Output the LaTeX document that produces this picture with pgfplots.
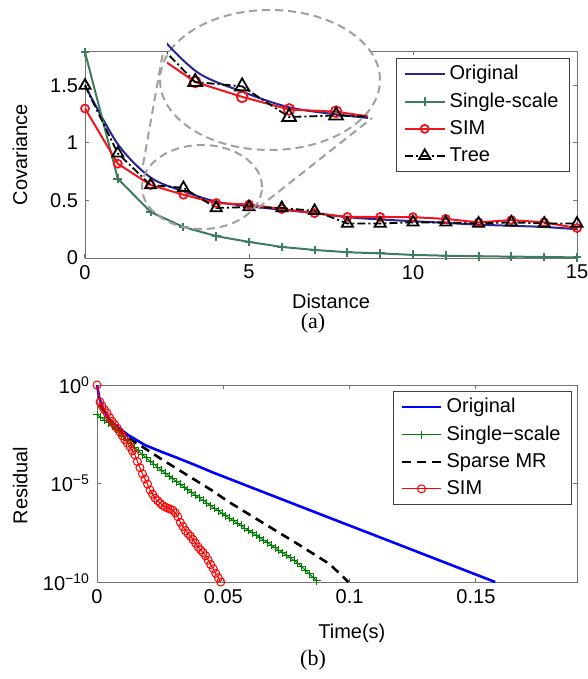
\documentclass[border=0pt]{standalone}
\usepackage{fontspec}
\setmainfont{Liberation Sans}
\newfontfamily\capfont{Liberation Serif}
\usepackage{pgfplots}
\usepackage{pgfplotstable}
\pgfplotsset{compat=1.18}

\definecolor{origblue}{RGB}{38,38,145}
\definecolor{ssgreen}{RGB}{62,125,92}
\definecolor{simred}{RGB}{238,22,28}
\definecolor{zoomgray}{RGB}{160,160,160}
\definecolor{mgreen}{RGB}{0,128,0}

% (a) covariance against distance
\pgfplotstableread{
d  orig  single sim   tree
0  1.50  1.79   1.30  1.50
1  0.99  0.69   0.82  0.91
2  0.70  0.40   0.635 0.635
3  0.58  0.27   0.55  0.61
4  0.49  0.19   0.478 0.435
5  0.45  0.14   0.465 0.443
6  0.42  0.096  0.426 0.435
7  0.39  0.07   0.39  0.41
8  0.355 0.05   0.357 0.30
9  0.335 0.04   0.357 0.30
10 0.32  0.027  0.355 0.31
11 0.305 0.02   0.34  0.31
12 0.29  0.015  0.31  0.30
13 0.28  0.012  0.33  0.31
14 0.27  0.009  0.31  0.30
15 0.25  0.005  0.26  0.30
}\covdata

% (b) residual, second column is log10 of the residual
\pgfplotstableread{
t      L
0      0
0.001  -0.70
0.0024 -1.17
0.0044 -1.68
0.0071 -2.03
0.0123 -2.54
0.019  -3.05
0.0257 -3.40
0.032  -3.71
0.0388 -4.06
0.0455 -4.42
0.0657 -5.43
0.0922 -6.75
0.116  -7.93
0.1576 -10.0
}\resorig

\pgfplotstableread{
t      L
0.0000 -1.50
0.0015 -1.64
0.0030 -1.78
0.0045 -1.91
0.0060 -2.05
0.0075 -2.24
0.0090 -2.43
0.0105 -2.62
0.0120 -2.81
0.0135 -2.99
0.0150 -3.17
0.0165 -3.35
0.0180 -3.53
0.0195 -3.70
0.0210 -3.86
0.0225 -4.01
0.0240 -4.17
0.0255 -4.33
0.0270 -4.47
0.0285 -4.62
0.0300 -4.76
0.0315 -4.90
0.0330 -5.04
0.0345 -5.18
0.0360 -5.32
0.0375 -5.46
0.0390 -5.60
0.0405 -5.73
0.0420 -5.86
0.0435 -5.99
0.0450 -6.13
0.0465 -6.25
0.0480 -6.38
0.0495 -6.51
0.0510 -6.64
0.0525 -6.76
0.0540 -6.89
0.0555 -7.01
0.0570 -7.13
0.0585 -7.26
0.0600 -7.38
0.0615 -7.50
0.0630 -7.63
0.0645 -7.75
0.0660 -7.88
0.0675 -8.00
0.0690 -8.13
0.0705 -8.26
0.0720 -8.39
0.0735 -8.51
0.0750 -8.64
0.0765 -8.77
0.0780 -8.90
0.0795 -9.04
0.0810 -9.22
0.0825 -9.40
0.0840 -9.58
0.0855 -9.76
0.0870 -9.94
}\ressingle

\pgfplotstableread{
t      L
0.001  -1.00
0.006  -1.95
0.0123 -2.69
0.019  -3.22
0.0257 -3.78
0.032  -4.28
0.0388 -4.82
0.0455 -5.35
0.052  -5.92
0.0657 -7.00
0.0792 -8.05
0.0922 -9.10
0.0995 -10.0
}\ressparse

\pgfplotstableread{
t      L
0      0
0.0012 -0.86
0.002  -1.07
0.003  -1.26
0.004  -1.42
0.005  -1.66
0.006  -1.84
0.007  -2.01
0.008  -2.19
0.009  -2.37
0.010  -2.57
0.011  -2.77
0.012  -2.95
0.013  -3.13
0.014  -3.34
0.015  -3.55
0.016  -3.89
0.017  -4.20
0.018  -4.51
0.019  -4.77
0.020  -5.03
0.021  -5.33
0.022  -5.54
0.023  -5.74
0.024  -5.87
0.025  -6.00
0.026  -6.11
0.027  -6.19
0.028  -6.25
0.029  -6.30
0.030  -6.35
0.031  -6.49
0.032  -6.69
0.033  -6.97
0.034  -7.18
0.035  -7.39
0.036  -7.54
0.037  -7.68
0.038  -7.85
0.039  -8.03
0.040  -8.22
0.041  -8.37
0.042  -8.51
0.043  -8.67
0.044  -8.89
0.045  -9.11
0.046  -9.33
0.047  -9.56
0.048  -9.78
0.049  -10.0
}\ressim

\pgfplotsset{
  matlab/.style={
    scale only axis,
    axis line style={black!55},
    tick style={black!55, line width=0.5pt},
    tick align=inside,
    major tick length=2pt,
    tick label style={font=\fontsize{10}{12}\selectfont},
    label style={font=\fontsize{10}{12}\selectfont},
    /pgf/number format/assume math mode=true,
    legend cell align=left,
    legend style={draw=black!75, line width=0.4pt, fill=white,
      font=\fontsize{10}{12}\selectfont, inner xsep=3.5pt, inner ysep=1.5pt,
      row sep=1pt},
    legend image code/.code={\draw[mark repeat=2,mark phase=2,##1]
      plot coordinates {(0cm,0cm) (0.35cm,0cm) (0.7cm,0cm)};},
    clip=false,
  },
  treestyle/.style={black, line width=0.9pt,
    dash pattern=on 4pt off 1.5pt on 1pt off 1.5pt,
    mark=triangle, mark size=#1, mark options={solid, line width=0.9pt}},
  simstyle/.style={simred, line width=1pt, mark=o, mark size=#1,
    mark options={line width=0.9pt}},
}

\begin{document}
\begin{tikzpicture}
\useasboundingbox (0,0) rectangle (294pt,-339.5pt);

% ---------- (a)
\begin{axis}[matlab,
  at={(42.5pt,-129pt)}, anchor=south west,
  width=246pt, height=103.5pt,
  xmin=0, xmax=15, ymin=0, ymax=1.8,
  xtick={0,5,10,15},
  ytick={0,0.5,1,1.5}, yticklabels={0,0.5,1,1.5},
  xlabel={Distance}, ylabel={Covariance},
  xlabel style={at={(axis description cs:0.5,-0.208)}, anchor=center},
  ylabel style={at={(axis description cs:-0.132,0.5)}, anchor=center},
  legend style={at={(axis description cs:1,1)}, anchor=north east,
    xshift=-3.5pt, yshift=-3.5pt},
]
\addplot[origblue, line width=1pt, smooth, tension=0.5] table[x=d, y=orig] {\covdata};
\addplot[ssgreen, line width=1pt, mark=+, mark size=2.2pt,
  mark options={line width=1pt}] table[x=d, y=single] {\covdata};
\addplot[simstyle=2pt] table[x=d, y=sim] {\covdata};
\addplot[treestyle=3.2pt] table[x=d, y=tree] {\covdata};
\legend{Original, Single-scale, SIM, Tree}
\end{axis}

% zoom ellipses
\begin{scope}[x=0.5pt, y=-0.5pt]
\fill[white] (270,80) ellipse [x radius=55pt, y radius=35pt];
\draw[zoomgray, line width=1pt, dash pattern=on 4pt off 2.5pt]
  (202,187) ellipse [x radius=30pt, y radius=21pt];
\draw[zoomgray, line width=1pt, dash pattern=on 4pt off 2.5pt]
  (143,165) -- (163,52);
\draw[zoomgray, line width=1pt, dash pattern=on 4pt off 2.5pt]
  (258,208) -- (372,118);
\draw[zoomgray, line width=1pt, dash pattern=on 4pt off 2.5pt]
  (270,80) ellipse [x radius=55pt, y radius=35pt];
\end{scope}

% inset
\begin{axis}[
  at={(83.5pt,-62.5pt)}, anchor=south west, scale only axis,
  width=100.5pt, height=45pt,
  xmin=1.4, xmax=5.68, ymin=0.389, ymax=0.904,
  hide axis, clip=true,
]
\addplot[origblue, line width=1pt, smooth, tension=0.5] table[x=d, y=orig] {\covdata};
\addplot[simstyle=2.7pt] table[x=d, y=sim] {\covdata};
\addplot[treestyle=4pt] table[x=d, y=tree] {\covdata};
\end{axis}

\node[font=\capfont\fontsize{11}{13}\selectfont] at (156.5pt,-161.5pt) {(a)};

% ---------- (b)
\begin{axis}[matlab,
  at={(48.5pt,-291pt)}, anchor=south west,
  width=240pt, height=98.5pt,
  xmin=0, xmax=0.19, ymin=-10, ymax=0,
  xtick={0,0.05,0.1,0.15}, xticklabels={0,0.05,0.1,0.15},
  ytick={-10,-5,0},
  yticklabels={10\textsuperscript{−10},10\textsuperscript{−5},10\textsuperscript{0}},
  xlabel={Time(s)}, ylabel={Residual},
  xlabel style={at={(axis description cs:0.531,-0.259)}, anchor=center},
  ylabel style={at={(axis description cs:-0.16,0.49)}, anchor=center},
  legend style={at={(axis description cs:1,1)}, anchor=north east,
    xshift=-2.5pt, yshift=-3pt},
]
\addplot[blue, line width=1.3pt] table[x=t, y=L] {\resorig};
\addplot[mgreen, line width=0.5pt, mark=+, mark size=2pt] table[x=t, y=L] {\ressingle};
\addplot[black, line width=1.3pt, dash pattern=on 4.5pt off 3pt] table[x=t, y=L] {\ressparse};
\addplot[red, line width=0.5pt, mark=o, mark size=2pt] table[x=t, y=L] {\ressim};
\legend{Original, Single−scale, Sparse MR, SIM}
\end{axis}

\node[font=\capfont\fontsize{11}{13}\selectfont] at (156.5pt,-330pt) {(b)};
\end{tikzpicture}
\end{document}
